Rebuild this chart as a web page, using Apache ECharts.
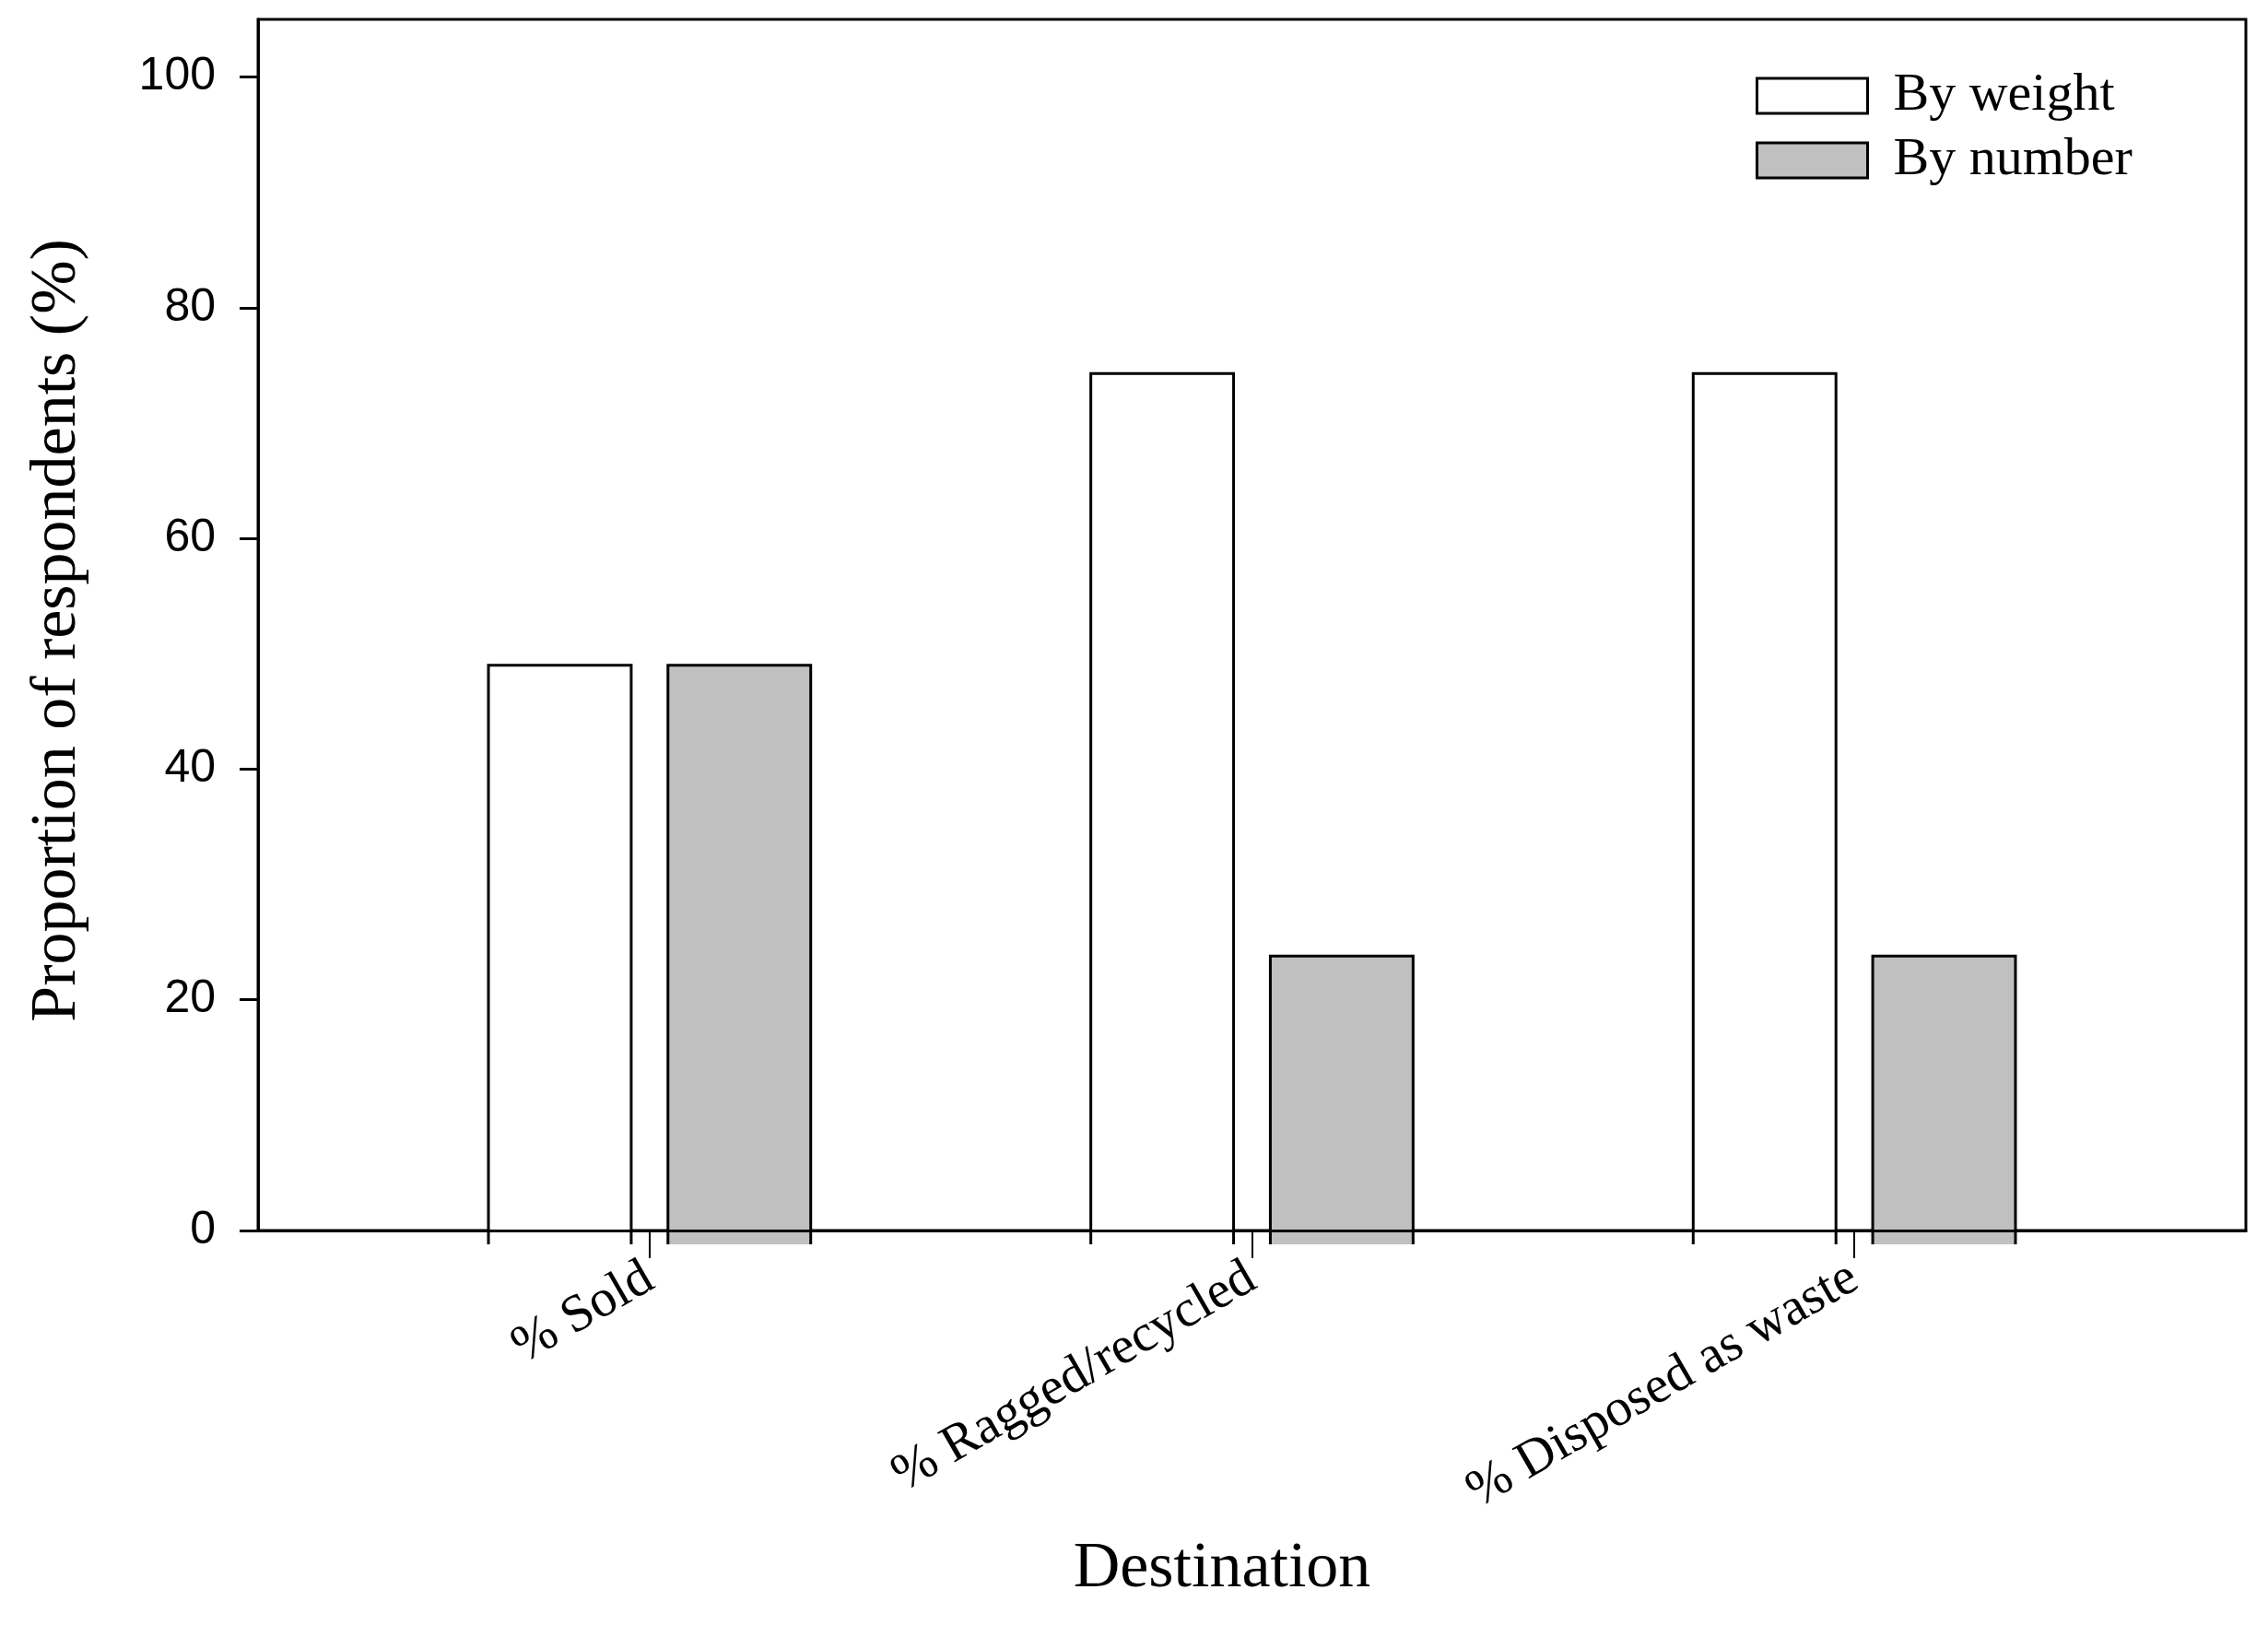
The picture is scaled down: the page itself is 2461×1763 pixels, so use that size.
<!DOCTYPE html>
<html>
<head>
<meta charset="utf-8">
<script src="https://cdn.jsdelivr.net/npm/echarts@6/dist/echarts.min.js"></script>
<style>
html,body{margin:0;padding:0;background:#fff;}
#chart{width:2461px;height:1763px;}
</style>
</head>
<body>
<div id="chart"></div>
<script>
const categories = ['% Sold', '% Ragged/recycled', '% Disposed as waste'];
const byWeight = [49.0, 74.3, 74.3];
const byNumber = [49.0, 23.8, 23.8];
const yTicks = [0, 20, 40, 60, 80, 100];
const seriesNames = ['By weight', 'By number'];
const xPositions = [1, 2, 3];

const BAR_W = 0.237;   // bar width in category units
const OFFSET = 0.149;  // bar centre offset from category centre
const EXT = 15;        // bar edges extend below the axis (px)

function makeRender(sign, fill) {
  return function (params, api) {
    const x = api.value(0), y = api.value(1);
    const unit = api.size([1, 0])[0];
    const top = api.coord([x, y]);
    const base = api.coord([x, 0]);
    const w = unit * BAR_W;
    const left = top[0] + sign * unit * OFFSET - w / 2;
    const bottom = base[1] + EXT;
    return {
      type: 'group',
      children: [
        { type: 'rect', shape: { x: left, y: top[1], width: w, height: bottom - top[1] },
          style: { fill: fill, stroke: null } },
        { type: 'polyline', shape: { points: [[left, bottom], [left, top[1]], [left + w, top[1]], [left + w, bottom]] },
          style: { stroke: '#000', lineWidth: 3, fill: null } }
      ]
    };
  };
}

const chart = echarts.init(document.getElementById('chart'), null, { renderer: 'canvas' });
chart.setOption({
  backgroundColor: '#fff',
  animation: false,
  grid: { left: 280, right: 24, top: 21, bottom: 428, show: true, borderColor: '#000', borderWidth: 3, backgroundColor: 'transparent' },
  xAxis: {
    type: 'value', min: 0.35, max: 3.65, z: 10,
    axisLine: { show: true, lineStyle: { color: '#000', width: 3 } },
    splitLine: { show: false },
    axisTick: { show: true, customValues: xPositions, length: 30, lineStyle: { color: '#000', width: 2 } },
    axisLabel: {
      show: true, customValues: xPositions, rotate: 30, margin: 48,
      formatter: v => categories[Math.round(v) - 1],
      fontFamily: 'Liberation Serif', fontSize: 57, color: '#000'
    }
  },
  yAxis: {
    type: 'value', min: 0, max: 105, z: 10,
    axisLine: { show: true, lineStyle: { color: '#000', width: 3 } },
    splitLine: { show: false },
    axisTick: { show: true, customValues: yTicks, length: 20, lineStyle: { color: '#000', width: 3 } },
    axisLabel: { show: true, customValues: yTicks, margin: 46, fontFamily: 'Liberation Sans', fontSize: 50, color: '#000' }
  },
  legend: {
    orient: 'vertical', left: 1905, top: 75, itemWidth: 120, itemHeight: 38, itemGap: 12, padding: 0,
    textStyle: { fontFamily: 'Liberation Serif', fontSize: 58, lineHeight: 38, color: '#000', padding: [0, 0, 0, 23] },
    data: [
      { name: seriesNames[0], icon: 'rect', itemStyle: { color: '#ffffff', borderColor: '#000', borderWidth: 3 } },
      { name: seriesNames[1], icon: 'rect', itemStyle: { color: '#c0c0c0', borderColor: '#000', borderWidth: 3 } }
    ]
  },
  graphic: [
    { type: 'text', x: 63, y: 684, rotation: Math.PI / 2,
      style: { text: 'Proportion of respondents (%)', font: '70px "Liberation Serif"', fill: '#000', textAlign: 'center', textVerticalAlign: 'middle' } },
    { type: 'text', x: 1326, y: 1703,
      style: { text: 'Destination', font: '70px "Liberation Serif"', fill: '#000', textAlign: 'center', textVerticalAlign: 'middle' } }
  ],
  series: [
    { name: seriesNames[0], type: 'custom', z: 2, clip: false,
      itemStyle: { color: '#ffffff', borderColor: '#000', borderWidth: 3 },
      renderItem: makeRender(-1, '#ffffff'),
      data: byWeight.map((v, i) => [xPositions[i], v]) },
    { name: seriesNames[1], type: 'custom', z: 2, clip: false,
      itemStyle: { color: '#c0c0c0', borderColor: '#000', borderWidth: 3 },
      renderItem: makeRender(1, '#c0c0c0'),
      data: byNumber.map((v, i) => [xPositions[i], v]) }
  ]
});
</script>
</body>
</html>
